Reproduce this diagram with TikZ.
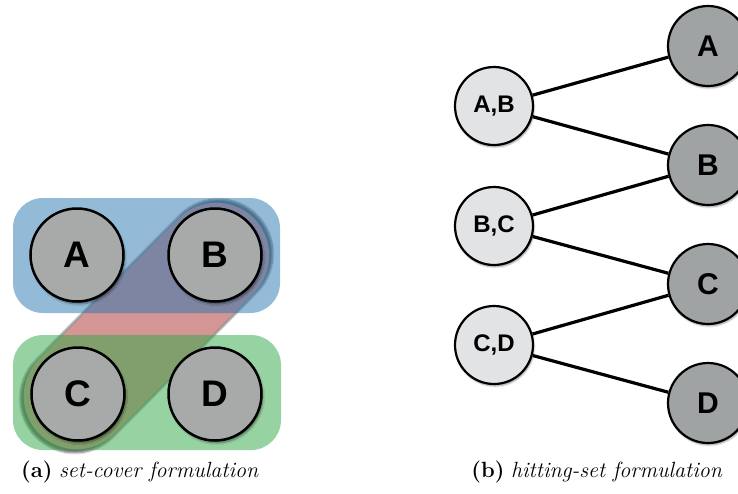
\documentclass[tikz,border=0pt]{standalone}
\usepackage{fontspec}
\newfontfamily\labelfont{Liberation Sans}
\usetikzlibrary{shadows.blur}

\definecolor{setblue}{RGB}{40,118,176}
\definecolor{setgreen}{RGB}{48,168,70}
\definecolor{pillred}{RGB}{212,150,148}
\definecolor{circgray}{RGB}{168,170,169}
\definecolor{lightnode}{RGB}{226,227,229}
\definecolor{darknode}{RGB}{160,163,163}

\tikzset{
  setbox/.style={rounded corners=30pt, fill opacity=0.5},
  capsule/.style={rotate=45.2, minimum width=304pt, minimum height=106pt, rounded corners=53pt, inner sep=0pt,
    fill=pillred, blur shadow={shadow xshift=0pt, shadow yshift=0pt, shadow scale=1.03, shadow blur steps=8, shadow opacity=55}},
  elem/.style={circle, draw=black, line width=2.5pt, fill=circgray, minimum size=93pt, inner sep=0pt,
    font=\labelfont\bfseries\fontsize{37}{37}\selectfont,
    blur shadow={shadow xshift=1.5pt, shadow yshift=-2.5pt, shadow blur steps=6, shadow opacity=45}},
  setnode/.style={circle, draw=black, line width=2.2pt, fill=lightnode, minimum size=78pt, inner sep=0pt,
    font=\labelfont\bfseries\fontsize{24}{24}\selectfont,
    blur shadow={shadow xshift=1pt, shadow yshift=-2pt, shadow blur steps=5, shadow opacity=40}},
  elemnode/.style={circle, draw=black, line width=2.2pt, fill=darknode, minimum size=80pt, inner sep=0pt,
    font=\labelfont\bfseries\fontsize{30}{30}\selectfont,
    blur shadow={shadow xshift=1pt, shadow yshift=-2pt, shadow blur steps=5, shadow opacity=40}},
  hit/.style={line width=3.2pt, black},
  caption/.style={font=\fontsize{22}{22}\selectfont, anchor=base}
}

\begin{document}
\begin{tikzpicture}[x=1pt,y=-1pt]
\useasboundingbox (0,0) rectangle (738,493);

% ---- (a) set-cover formulation ----
% set {B,C}: a slanted capsule underneath the two translucent sets
\node[capsule] (bc) at (146.5,326) {};

% sets {A,B} and {C,D}
\fill[setblue, setbox] (13,198) rectangle (280,313);
\fill[setgreen, setbox] (13,335) rectangle (281,450);

\node[elem] (a) at (77,255) {A};
\node[elem] (b) at (215,255) {B};
\node[elem] (c) at (78,394) {C};
\node[elem] (d) at (215,394) {D};

% ---- (b) hitting-set formulation ----
\node[setnode] (ab) at (494,106) {A,B};
\node[setnode] (bc2) at (494,226) {B,C};
\node[setnode] (cd) at (494,345) {C,D};

\node[elemnode] (ea) at (708,46) {A};
\node[elemnode] (eb) at (708,165) {B};
\node[elemnode] (ec) at (708,284) {C};
\node[elemnode] (ed) at (708,403) {D};

\draw[hit] (ab) -- (ea);
\draw[hit] (ab) -- (eb);
\draw[hit] (bc2) -- (eb);
\draw[hit] (bc2) -- (ec);
\draw[hit] (cd) -- (ec);
\draw[hit] (cd) -- (ed);

% ---- captions ----
\node[caption] (capa) at (140,477) {\textbf{(a)} \textit{set-cover formulation}};
\node[caption] (capb) at (597,477) {\textbf{(b)} \textit{hitting-set formulation}};
\end{tikzpicture}
\end{document}
